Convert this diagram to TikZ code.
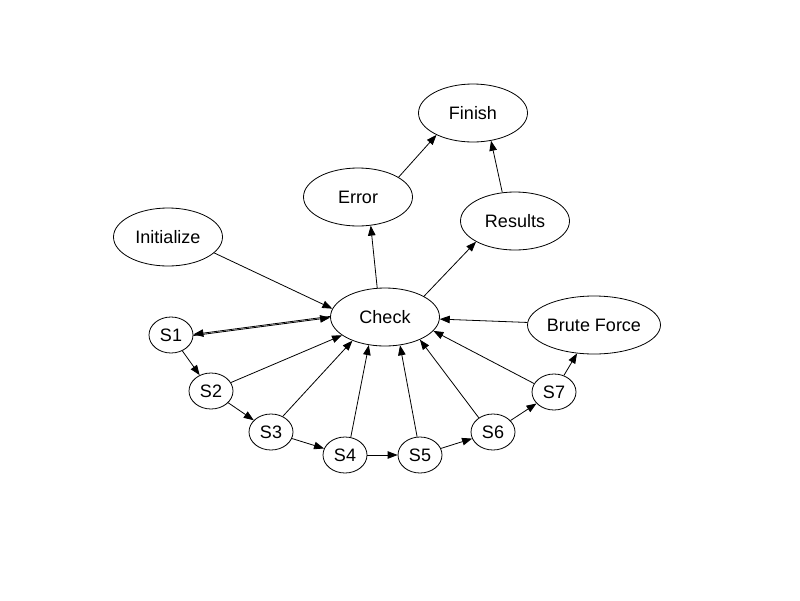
\documentclass[tikz,border=0pt]{standalone}
\usepackage{fontspec}
\setmainfont{Liberation Sans}
\usetikzlibrary{shapes.geometric,arrows.meta}
\begin{document}
\begin{tikzpicture}
            [x=1pt,y=-1pt,
            main/.style ={draw,ellipse,inner sep=0pt,minimum width=109pt,minimum height=58pt,font=\fontsize{18}{21}\selectfont},
            small/.style ={main,minimum width=44pt,minimum height=36pt},
            every path/.style={line width=0.8pt},
            >={Triangle[length=10pt,width=7.5pt]}]
            \useasboundingbox (0,0) rectangle (800,600);
            \node[main] (finish) at (473,113){Finish};
            \node[main] (error) at (358,197){Error};
            \node[main] (results) at (515,221){Results};
            \node[main] (init) at (168,237){Initialize};
            \node[main] (check) at (385,317){Check};
            \node[main,minimum width=106pt] (brute) at (594,325){Brute Force};
            \node[small] (s1) at (171,335){S1};
            \node[small] (s2) at (211,391){S2};
            \node[small] (s3) at (271,432){S3};
            \node[small] (s4) at (345,455){S4};
            \node[small] (s5) at (420,455){S5};
            \node[small] (s6) at (493,432){S6};
            \node[small] (s7) at (554,392){S7};
            \draw[->] (init.-19) to (check.171);
            \draw[->] ([yshift=-0.6pt]s1.east) to ([yshift=-0.6pt]check.west);
            \draw[->] ([yshift=0.6pt]check.west) to ([yshift=0.6pt]s1.east);
            \draw[->] (s1) to (s2);
            \draw[->] (s2) to (s3);
            \draw[->] (s3) to (s4);
            \draw[->] (s4) to (s5);
            \draw[->] (s5) to (s6);
            \draw[->] (s6) to (s7);
            \draw[->] (s7) to (brute);
            \draw[->] (s2) to (check);
            \draw[->] (s3.53) to (check.216);
            \draw[->] (s4.72) to (check.240);
            \draw[->] (s5.99) to (check.-62);
            \draw[->] (s6.135) to (check.-33);
            \draw[->] (s7.157) to (check.-16);
            \draw[->] (brute) to (check);
            \draw[->] (check.105) to (error.-66);
            \draw[->] (check.28) to (results.208);
            \draw[->] (error.26) to (finish.211);
            \draw[->] (results.114) to (finish.-57);
        \end{tikzpicture}
\end{document}
